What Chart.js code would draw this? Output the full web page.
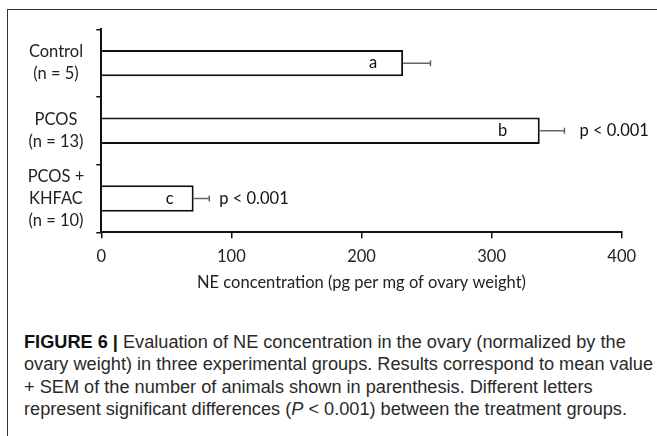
<!DOCTYPE html>
<html><head><meta charset="utf-8">
<script src="https://cdn.jsdelivr.net/npm/chart.js@4/dist/chart.umd.min.js"></script>
<style>
html,body{margin:0;padding:0;background:#fff;width:657px;height:436px;overflow:hidden;position:relative;}
#frame{position:absolute;left:7px;top:8.5px;width:700px;height:500px;border:1.5px solid #333;box-sizing:border-box;}
#wrap{position:absolute;left:0;top:0;width:657px;height:310px;}
#caption{position:absolute;left:24px;top:331px;font-family:'Liberation Sans',Arial,sans-serif;font-size:17.5px;line-height:22.3px;color:#2a2a2a;white-space:nowrap;transform-origin:0 0;}
#caption b{font-weight:bold;color:#111;}
</style></head><body>
<div id="frame"></div>
<div id="wrap"><canvas id="c" width="657" height="310"></canvas></div>
<div id="caption"><span class="ln"><b>FIGURE 6 |</b> Evaluation of NE concentration in the ovary (normalized by the</span><br><span class="ln">ovary weight) in three experimental groups. Results correspond to mean value</span><br><span class="ln">+ SEM of the number of animals shown in parenthesis. Different letters</span><br><span class="ln">represent significant differences (<i>P</i> &lt; 0.001) between the treatment groups.</span></div>
<script>
const categories = [['Control', '(n = 5)'], ['PCOS', '(n = 13)'], ['PCOS +', 'KHFAC', '(n = 10)']];
const meanValues = [232, 337, 71];
const semValues = [21, 19, 12];
const groupLetters = ['a', 'b', 'c'];
const pLabels = ['', 'p < 0.001', 'p < 0.001'];
const xTickValues = [0, 100, 200, 300, 400];

const FONT = 'Lato';

const annotate = {
  id: 'annotate',
  afterDatasetsDraw(chart, args, opts) {
    const ctx = chart.ctx;
    const xs = chart.scales.x;
    const meta = chart.getDatasetMeta(0);
    ctx.save();
    meta.data.forEach((bar, i) => {
      const y = bar.y;
      const x1 = xs.getPixelForValue(meanValues[i]);
      const x2 = xs.getPixelForValue(meanValues[i] + semValues[i]);
      ctx.strokeStyle = opts.errColor;
      ctx.lineWidth = 1.5;
      ctx.beginPath();
      ctx.moveTo(x1, y); ctx.lineTo(x2, y);
      ctx.moveTo(x2, y - opts.cap / 2); ctx.lineTo(x2, y + opts.cap / 2);
      ctx.stroke();
      ctx.fillStyle = '#111';
      ctx.font = '16.5px ' + FONT;
      ctx.textBaseline = 'middle';
      ctx.textAlign = 'center';
      ctx.fillText(groupLetters[i], x1 + opts.letterOffsets[i], y);
      if (pLabels[i]) {
        ctx.textAlign = 'left';
        ctx.fillText(pLabels[i], x2 + opts.pGaps[i], y);
      }
    });
    ctx.restore();
  }
};

new Chart(document.getElementById('c'), {
  type: 'bar',
  data: {
    labels: categories,
    datasets: [{
      data: meanValues,
      backgroundColor: '#ffffff',
      borderColor: '#111',
      borderWidth: 2,
      barPercentage: 0.39,
      categoryPercentage: 1
    }]
  },
  options: {
    indexAxis: 'y',
    responsive: false,
    animation: false,
    devicePixelRatio: 1,
    layout: { padding: { top: 29.3, left: 0, right: 35.3, bottom: 0 } },
    plugins: {
      legend: { display: false },
      tooltip: { enabled: false },
      annotate: { errColor: '#666', cap: 6, letterOffsets: [-30, -37, -24], pGaps: [0, 15, 10] }
    },
    scales: {
      x: {
        type: 'linear', min: 0, max: 400,
        afterBuildTicks: s => { s.ticks = xTickValues.map(v => ({ value: v })); },
        ticks: { font: { family: FONT, size: 16.5 }, color: '#222', padding: 8 },
        grid: { drawOnChartArea: false, drawTicks: true, tickLength: 6, color: '#111', lineWidth: 1.5 },
        border: { color: '#111', width: 2 },
        title: { display: true, text: 'NE concentration (pg per mg of ovary weight)', font: { family: FONT, size: 16.5 }, color: '#222', padding: { top: 0, bottom: 17 } },
        afterFit: s => { s.height = 77.7; s.paddingLeft = 0; s.paddingRight = 0; }
      },
      y: {
        type: 'category', offset: true,
        grid: { offset: true, drawOnChartArea: false, drawTicks: true, tickLength: 5, color: '#111', lineWidth: 1.5 },
        border: { color: '#111', width: 2 },
        ticks: { autoSkip: false, font: { family: FONT, size: 16.5, lineHeight: 1.33 }, color: '#222', crossAlign: 'center', padding: 12 },
        afterFit: s => { s.width = 101.3; s.paddingTop = 0; s.paddingBottom = 0; }
      }
    }
  },
  plugins: [annotate]
});

// fit caption lines to the reference width
(function () {
  const cap = document.getElementById('caption');
  let w = 0;
  cap.querySelectorAll('.ln').forEach(s => { w = Math.max(w, s.getBoundingClientRect().width); });
  if (w > 0) cap.style.transform = 'scaleX(' + (629 / w) + ')';
})();
</script>
</body></html>
